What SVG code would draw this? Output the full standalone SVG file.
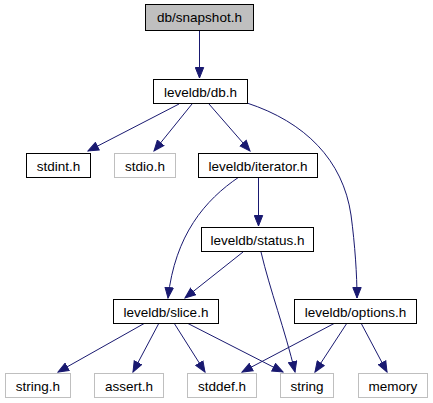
<svg xmlns="http://www.w3.org/2000/svg" width="433" height="403" viewBox="0 0 433 403">
<style>
.n rect{fill:#fff;stroke:#000;stroke-width:1}
.g rect{fill:#fff;stroke:#bfbfbf;stroke-width:1}
.cur rect{fill:#bfbfbf;stroke:#000;stroke-width:1}
text{font-family:"Liberation Sans",Arial,Helvetica,sans-serif;font-size:13.5px;fill:#000;text-anchor:middle}
#edges path{fill:none;stroke:#191970;stroke-width:1}
</style>
<defs>
<marker id="ah" markerUnits="userSpaceOnUse" markerWidth="12" markerHeight="10" refX="11" refY="5" orient="auto" viewBox="0 0 12 10">
<path d="M0.5,0.8 L11,5 L0.5,9.2 z" fill="#191970" stroke="#191970" stroke-width="1"/>
</marker>
</defs>
<rect width="433" height="403" fill="#fff"/>
<g id="edges">
<path d="M199.5,31 L199.5,78" marker-end="url(#ah)"/>
<path d="M179,104 L88,151" marker-end="url(#ah)"/>
<path d="M192,104 L154,151" marker-end="url(#ah)"/>
<path d="M209,104 L250,151" marker-end="url(#ah)"/>
<path d="M247,103 C305,122 343,160 351,215 C355,245 357,275 357,298" marker-end="url(#ah)"/>
<path d="M258.5,177 L258.5,226" marker-end="url(#ah)"/>
<path d="M239,177 C205,200 175,235 168,298" marker-end="url(#ah)"/>
<path d="M243,252 L185,298" marker-end="url(#ah)"/>
<path d="M261,252 C270,290 285,330 295,372" marker-end="url(#ah)"/>
<path d="M145,323 L58,372" marker-end="url(#ah)"/>
<path d="M159,323 L133,372" marker-end="url(#ah)"/>
<path d="M174,323 L205,372" marker-end="url(#ah)"/>
<path d="M187,323 L283,372" marker-end="url(#ah)"/>
<path d="M335,323 L242,372" marker-end="url(#ah)"/>
<path d="M347,323 L315,372" marker-end="url(#ah)"/>
<path d="M361,323 L387,372" marker-end="url(#ah)"/>
</g>
<g id="snapshot" class="cur"><rect x="145.5" y="4.5" width="108" height="26"/><text x="199.5" y="22">db/snapshot.h</text></g>
<g id="db" class="n"><rect x="153.5" y="79.5" width="94" height="24"/><text x="200.5" y="96.5">leveldb/db.h</text></g>
<g id="stdint" class="n"><rect x="26.5" y="153.5" width="64" height="24"/><text x="58.5" y="170.5">stdint.h</text></g>
<g id="stdio" class="g"><rect x="114.5" y="153.5" width="61" height="24"/><text x="145" y="170.5">stdio.h</text></g>
<g id="iterator" class="n"><rect x="198.5" y="153.5" width="119" height="24"/><text x="258" y="170.5">leveldb/iterator.h</text></g>
<g id="status" class="n"><rect x="201.5" y="227.5" width="112" height="24"/><text x="257.5" y="244.5">leveldb/status.h</text></g>
<g id="slice" class="n"><rect x="113.5" y="299.5" width="105" height="24"/><text x="166" y="316.5">leveldb/slice.h</text></g>
<g id="options" class="n"><rect x="294.5" y="299.5" width="122" height="24"/><text x="355.5" y="316.5">leveldb/options.h</text></g>
<g id="stringh" class="g"><rect x="5.5" y="373.5" width="65" height="24"/><text x="38" y="390.5">string.h</text></g>
<g id="assert" class="g"><rect x="94.5" y="373.5" width="69" height="24"/><text x="129" y="390.5">assert.h</text></g>
<g id="stddef" class="g"><rect x="187.5" y="373.5" width="69" height="24"/><text x="222" y="390.5">stddef.h</text></g>
<g id="string" class="g"><rect x="280.5" y="373.5" width="53" height="24"/><text x="307" y="390.5">string</text></g>
<g id="memory" class="g"><rect x="358.5" y="373.5" width="69" height="24"/><text x="393" y="390.5">memory</text></g>
</svg>
